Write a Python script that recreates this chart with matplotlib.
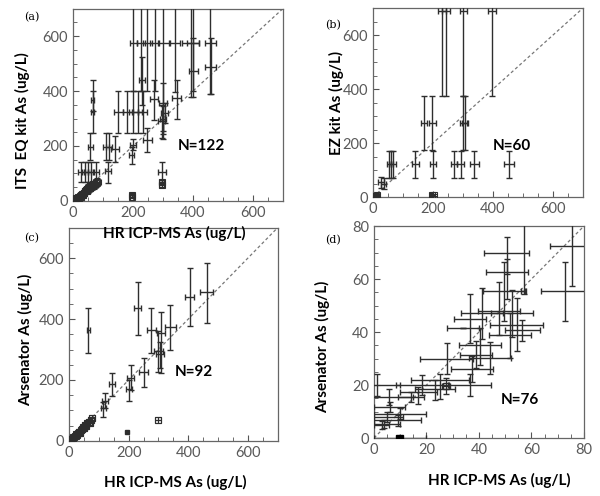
import matplotlib
matplotlib.use('Agg')
import matplotlib.pyplot as plt
from matplotlib.ticker import MultipleLocator

plt.rcParams['font.family'] = ['Lato', 'DejaVu Sans']

# ---- panel (a): ITS EQ kit vs HR ICP-MS ----
a_x = [201, 226, 248, 273, 301, 340, 392, 401, 457,
       229, 270, 299, 346, 401, 459,
       150, 180, 200, 215, 232, 65, 65,
       57, 110, 121, 140, 201, 196, 248,
       295, 300, 305, 25, 40, 50, 60, 75, 118, 296]
a_y = [575, 575, 575, 575, 575, 575, 575, 575, 575,
       440, 370, 355, 376, 474, 488,
       325, 325, 325, 325, 325, 367, 325,
       198, 198, 198, 190, 204, 167, 223,
       290, 300, 320, 107, 107, 107, 107, 107, 110, 107]
a_xerr = [12, 14, 15, 15, 18, 17, 28, 20, 18,
          10, 12, 14, 15, 14, 18,
          15, 15, 15, 15, 15, 5, 5,
          8, 10, 10, 12, 10, 8, 14,
          12, 10, 12, 10, 10, 10, 10, 10, 10, 14]
a_ylo = [175, 175, 175, 175, 330, 177, 195, 175, 187,
         91, 75, 130, 76, 94, 100,
         79, 79, 79, 79, 79, 40, 79,
         48, 48, 48, 48, 20, 33, 44,
         60, 45, 35, 37, 37, 37, 37, 37, 46, 37]
a_yhi = [300, 300, 300, 300, 300, 300, 300, 300, 300,
         85, 70, 75, 64, 117, 103,
         76, 76, 76, 76, 76, 73, 75,
         48, 48, 48, 48, 20, 31, 41,
         60, 45, 35, 36, 36, 36, 36, 36, 33, 36]
a_sq_x = [296, 296, 196, 196, 5, 8, 10, 12, 15, 18, 20, 22, 25, 28, 30, 33, 35,
          38, 40, 42, 45, 48, 50, 52, 55, 58, 60, 65, 70, 75, 80]
a_sq_y = [70, 58, 16, 22, 4, 6, 10, 8, 12, 15, 10, 18, 20, 15, 25, 22, 30,
          28, 35, 40, 38, 45, 42, 50, 48, 55, 52, 60, 58, 65, 70]
a_sq_err = [8, 8, 6, 6, 4, 5, 5, 6, 6, 6, 6, 7, 8, 8, 8, 9, 9,
            9, 10, 10, 10, 10, 12, 12, 12, 12, 12, 14, 14, 14, 14]

# ---- panel (b): EZ kit vs HR ICP-MS ----
b_x = [229, 243, 301, 396, 171, 198, 301, 307,
       53, 60, 68, 141, 201, 270, 292, 338, 453, 25, 35]
b_y = [690, 690, 690, 690, 273, 273, 273, 273,
       122, 122, 122, 122, 122, 122, 122, 122, 122, 55, 50]
b_xerr = [14, 12, 12, 14, 10, 12, 12, 10,
          8, 8, 8, 12, 10, 10, 12, 14, 18, 10, 8]
b_ylo = [316, 316, 316, 316, 100, 100, 100, 100,
         50, 50, 50, 50, 50, 50, 50, 50, 50, 22, 20]
b_yhi = [300, 300, 300, 300, 100, 100, 100, 100,
         50, 50, 50, 50, 50, 50, 50, 50, 50, 18, 20]
b_sq_x = [5, 10, 14, 196, 202]
b_sq_y = [5, 5, 8, 7, 7]
b_sq_err = [4, 4, 4, 5, 5]

# ---- panel (c): Arsenator vs HR ICP-MS ----
c_x = [65, 230, 275, 308, 340, 404, 461, 300, 305, 250, 207, 202, 143, 121, 115]
c_y = [364, 437, 364, 353, 375, 471, 487, 295, 285, 225, 208, 169, 187, 132, 107]
c_xerr = [5, 12, 15, 14, 18, 16, 22, 15, 12, 15, 12, 10, 10, 10, 8]
c_ylo = [74, 89, 77, 131, 77, 94, 99, 70, 45, 47, 41, 37, 38, 25, 27]
c_yhi = [71, 85, 71, 71, 71, 95, 98, 65, 40, 46, 41, 31, 35, 24, 22]
c_sq_x = [298, 5, 8, 10, 13, 15, 18, 20, 22, 25, 28, 30, 33, 35, 38, 40, 42,
          45, 48, 50, 52, 55, 58, 62, 66, 70, 75, 78]
c_sq_y = [69, 5, 8, 6, 10, 14, 12, 18, 15, 22, 20, 25, 28, 30, 26, 35, 40,
          38, 45, 42, 48, 52, 50, 60, 62, 58, 70, 75]
c_sq_err = [10, 4, 4, 4, 5, 5, 5, 6, 6, 6, 7, 7, 7, 8, 8, 8, 8,
            9, 9, 9, 10, 10, 10, 10, 10, 10, 10, 10]
c_fill_x = [195]
c_fill_y = [30]

# ---- panel (d): Arsenator vs HR ICP-MS, low range ----
d_x = [75.6, 72.8, 57, 49.6, 50.5, 50.5, 47.5, 52.5, 54.3, 51.8, 41, 44.2,
       40.4, 38.9, 37.2, 36.6, 27.7, 36.5, 25.1, 23.2, 18.2, 16.9, 1,
       5.7, 14, 6, 10, 5, 9, 4, 2.9, 10, 56.5, 34]
d_y = [72.5, 55.3, 55.5, 55.3, 70, 62.6, 48, 47, 42.8, 38.7, 47, 30.2,
       35, 31.5, 26, 45, 30, 20, 21.8, 18.6, 19.9, 17.4, 20,
       15.5, 15.5, 11.7, 9.2, 7.9, 6.7, 5.4, 4.8, 0, 40.6, 41.5]
d_xerr = [8.5, 9, 1, 8, 8.5, 8, 8, 8, 10, 8, 8, 8,
          8, 6, 8, 6, 10, 8, 11, 7.5, 10, 7, 9,
          9, 5, 6, 10, 6, 9, 6, 3, 10, 6.6, 6]
d_ylo = [15, 11, 1, 11, 8, 10, 9, 9, 10, 8.5, 9.5, 6,
         7.5, 5, 5, 9, 6, 4, 7, 4.4, 3.8, 4.4, 4,
         3.2, 2, 2, 2, 2, 2, 1.5, 1.5, 0, 4, 0]
d_yhi = [12, 11, 30, 11, 6, 5, 11, 9, 10, 8.5, 9.5, 6,
         6.5, 5, 5, 9.5, 6, 4, 2.5, 3.2, 4, 1.8, 4,
         2.9, 2, 2, 2, 2, 2, 1.5, 1.5, 0, 4, 0]
d_sq_x = [27.5]
d_sq_y = [19.5]
d_fill_x = [9, 10.2]
d_fill_y = [0.5, 0.5]

ecol = '#2e2e2e'
tick_col = '#555555'


def setup(ax, lim, major, minor):
    ax.set_xlim(0, lim)
    ax.set_ylim(0, lim)
    ax.plot([0, lim], [0, lim], ls=(0, (2.5, 2)), color='#777777', lw=0.9, zorder=1)
    ax.xaxis.set_major_locator(MultipleLocator(major))
    ax.yaxis.set_major_locator(MultipleLocator(major))
    ax.xaxis.set_minor_locator(MultipleLocator(minor))
    ax.yaxis.set_minor_locator(MultipleLocator(minor))
    ax.tick_params(which='both', direction='in', colors=tick_col,
                   labelsize=10.5, labelcolor='#595959')
    ax.tick_params(which='major', length=4)
    ax.tick_params(which='minor', length=3)
    for s in ax.spines.values():
        s.set_color('#666666')
        s.set_linewidth(0.9)


def bars(ax, x, y, xerr, ylo, yhi):
    ax.errorbar(x, y, xerr=xerr, yerr=[ylo, yhi], fmt='none', ecolor=ecol,
                elinewidth=1, capsize=2.5, capthick=1, zorder=3)


def squares(ax, x, y, err):
    ax.errorbar(x, y, xerr=err, yerr=err, fmt='s', ms=4, mfc='none', mec=ecol,
                mew=0.8, ecolor=ecol, elinewidth=0.9, capsize=2, zorder=3)


fig = plt.figure(figsize=(6, 4.96), dpi=100)
ax_a = fig.add_axes([0.1217, 0.5948, 0.35, 0.388])
ax_b = fig.add_axes([0.6217, 0.6028, 0.35, 0.381])
ax_c = fig.add_axes([0.115, 0.1109, 0.348, 0.4304])
ax_d = fig.add_axes([0.6233, 0.1169, 0.35, 0.4274])

setup(ax_a, 700, 200, 50)
bars(ax_a, a_x, a_y, a_xerr, a_ylo, a_yhi)
squares(ax_a, a_sq_x, a_sq_y, a_sq_err)
ax_a.text(427, 200, 'N=122', fontsize=11, fontweight='bold', ha='center', va='center')

setup(ax_b, 700, 200, 50)
bars(ax_b, b_x, b_y, b_xerr, b_ylo, b_yhi)
squares(ax_b, b_sq_x, b_sq_y, b_sq_err)
ax_b.text(464, 190, 'N=60', fontsize=11, fontweight='bold', ha='center', va='center')

setup(ax_c, 700, 200, 50)
bars(ax_c, c_x, c_y, c_xerr, c_ylo, c_yhi)
squares(ax_c, c_sq_x, c_sq_y, c_sq_err)
ax_c.plot(c_fill_x, c_fill_y, 's', ms=3, color=ecol, zorder=3)
ax_c.text(420, 226, 'N=92', fontsize=11, fontweight='bold', ha='center', va='center')

setup(ax_d, 80, 20, 5)
bars(ax_d, d_x, d_y, d_xerr, d_ylo, d_yhi)
ax_d.errorbar(d_sq_x, d_sq_y, xerr=1.5, yerr=3, fmt='s', ms=4, mfc='none', mec=ecol,
              ecolor=ecol, elinewidth=0.9, capsize=2, zorder=3)
ax_d.plot(d_fill_x, d_fill_y, 's', ms=3, color='black', zorder=4)
ax_d.text(55.5, 14.3, 'N=76', fontsize=11, fontweight='bold', ha='center', va='center')

lab = dict(fontsize=11, fontweight='bold', ha='center', va='center')
fig.text(0.038, 0.756, 'ITS  EQ kit As (ug/L)', rotation=90, **lab)
fig.text(0.56, 0.792, 'EZ kit As (ug/L)', rotation=90, **lab)
fig.text(0.043, 0.315, 'Arsenator As (ug/L)', rotation=90, **lab)
fig.text(0.538, 0.30, 'Arsenator As (ug/L)', rotation=90, **lab)
fig.text(0.29, 0.530, 'HR ICP-MS As (ug/L)', zorder=10, **lab)
fig.text(0.292, 0.028, 'HR ICP-MS As (ug/L)', **lab)
fig.text(0.832, 0.032, 'HR ICP-MS As (ug/L)', **lab)

pl = dict(fontsize=8, family='DejaVu Serif', ha='center', va='center')
fig.text(0.053, 0.966, '(a)', **pl)
fig.text(0.555, 0.95, '(b)', **pl)
fig.text(0.053, 0.52, '(c)', **pl)
fig.text(0.555, 0.516, '(d)', **pl)

fig.savefig('out.png', dpi=100)
